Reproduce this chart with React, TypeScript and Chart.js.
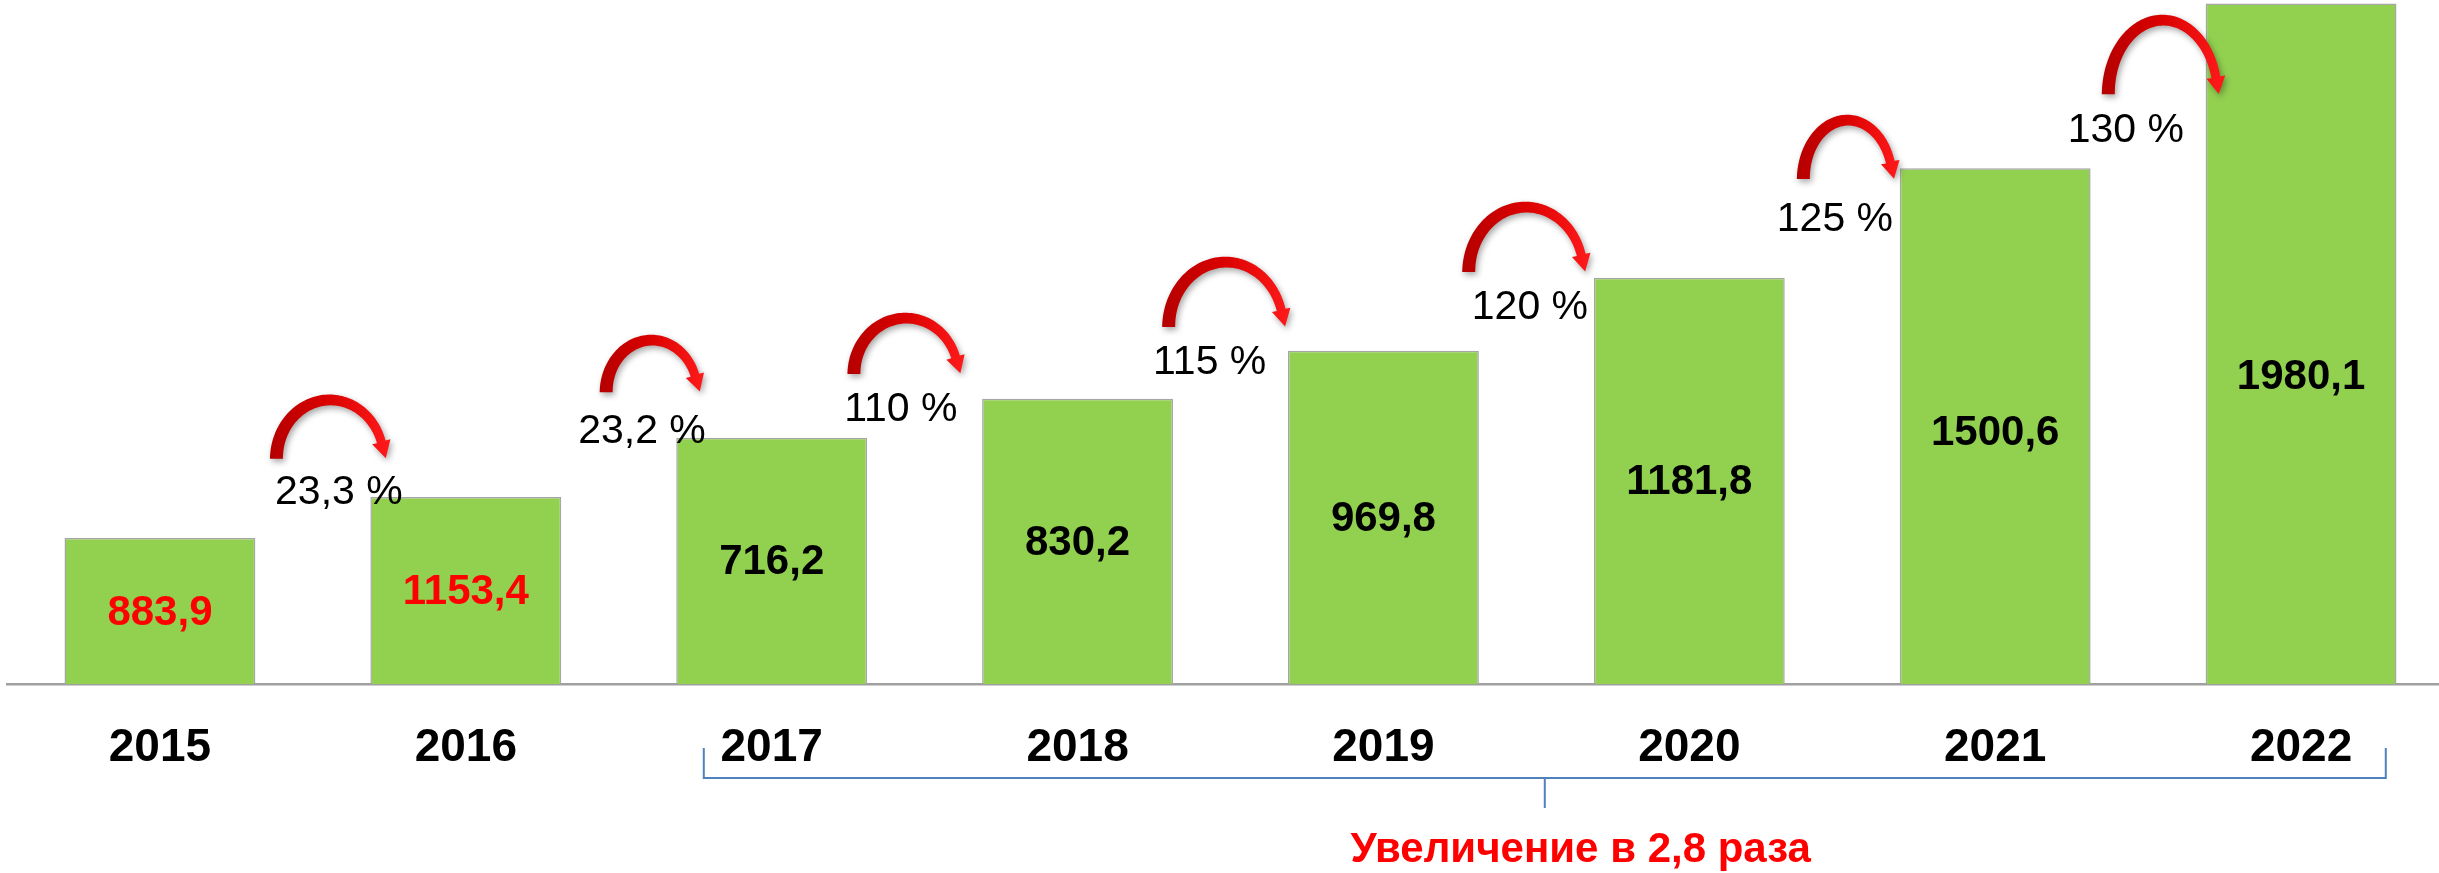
import React, { useEffect, useRef } from 'react';
import { Chart, registerables } from 'chart.js';

Chart.register(...registerables);

// ---- data ----
const years = ['2015', '2016', '2017', '2018', '2019', '2020', '2021', '2022'];
const barHeights = [425, 544, 716.2, 830.2, 969.8, 1181.8, 1500.6, 1980.1];
const valueLabels = ['883,9', '1153,4', '716,2', '830,2', '969,8', '1181,8', '1500,6', '1980,1'];
const valueLabelRed = [true, true, false, false, false, false, false, false];
const growthLabels = ['23,3 %', '23,2 %', '110 %', '115 %', '120 %', '125 %', '130 %'];
const summaryText = 'Увеличение в 2,8 раза';

// ---- annotation layout (x in category units, y in value units) ----
const valueLabelLevel = [0.5, 0.5, 0.5, 0.5, 0.5, 0.5, 0.49, 0.453];
const growthLabelX = [0.585, 1.576, 2.422, 3.432, 4.479, 5.476, 6.427];
const growthLabelY = [561, 739, 803, 940, 1100, 1358, 1617];
const arrowCenterX = [0.556, 1.608, 2.439, 3.485, 4.466, 5.518, 6.548];
const arrowHalfWidth = [0.198, 0.172, 0.193, 0.21, 0.21, 0.168, 0.201];
const arrowBase = [655, 849, 902, 1039, 1199, 1469, 1716];
const arrowTop = [841, 1015, 1079, 1242, 1402, 1655, 1946];
const bracketFrom = 1.778;
const bracketTo = 7.277;
const summaryX = 4.645;

const FONT = '"Liberation Sans", Arial, Helvetica, sans-serif';

function drawArrow(ctx: CanvasRenderingContext2D, L: number, R: number, B: number, T: number) {
  const cx = (L + R) / 2;
  const rx = (R - L) / 2 - 7;
  const ry = B - T - 5;
  const h = 17;
  const te = Math.asin(Math.min(0.9, h / ry));
  const N = 80;
  const outer: number[][] = [];
  const inner: number[][] = [];
  for (let k = 0; k <= N; k++) {
    const th = Math.PI - ((Math.PI - te) * k) / N;
    const t = 13 - (4 * k) / N;
    const c = Math.cos(th);
    const s = Math.sin(th);
    outer.push([cx + (rx + t / 2) * c, B - (ry + t / 2) * s]);
    inner.push([cx + (rx - t / 2) * c, B - (ry - t / 2) * s]);
  }
  const px = cx + rx * Math.cos(te);
  const py = B - ry * Math.sin(te);
  let dx = rx * Math.sin(te);
  let dy = ry * Math.cos(te);
  const len = Math.hypot(dx, dy);
  dx /= len;
  dy /= len;
  const nx = -dy;
  const ny = dx;
  const hw = 9.5;
  ctx.save();
  const g = ctx.createLinearGradient(L, 0, R, 0);
  g.addColorStop(0, '#b40000');
  g.addColorStop(0.45, '#d80000');
  g.addColorStop(1, '#ff1a1a');
  ctx.fillStyle = g;
  ctx.shadowColor = 'rgba(0,0,0,0.35)';
  ctx.shadowBlur = 6;
  ctx.shadowOffsetX = 2;
  ctx.shadowOffsetY = 3;
  ctx.beginPath();
  ctx.moveTo(outer[0][0], outer[0][1]);
  for (const p of outer) ctx.lineTo(p[0], p[1]);
  ctx.lineTo(px - nx * hw, py - ny * hw);
  ctx.lineTo(px + dx * h, py + dy * h);
  ctx.lineTo(px + nx * hw, py + ny * hw);
  for (let k = inner.length - 1; k >= 0; k--) ctx.lineTo(inner[k][0], inner[k][1]);
  ctx.closePath();
  ctx.fill();
  ctx.restore();
}

const annotationsPlugin = {
  id: 'annotations',
  afterDatasetsDraw(chart: any) {
    const ctx: CanvasRenderingContext2D = chart.ctx;
    const xs = chart.scales.x;
    const ys = chart.scales.y;
    const area = chart.chartArea;
    const meta = chart.getDatasetMeta(0);

    // value labels inside bars
    ctx.save();
    ctx.font = `bold 42px ${FONT}`;
    ctx.textAlign = 'center';
    ctx.textBaseline = 'middle';
    meta.data.forEach((bar: any, i: number) => {
      const p = bar.getProps(['x', 'y', 'base'], true);
      const f = valueLabelLevel[i];
      ctx.fillStyle = valueLabelRed[i] ? '#ff0000' : '#000000';
      ctx.fillText(valueLabels[i], p.x, p.base + (p.y - p.base) * f + 2);
    });
    ctx.restore();

    // arrows
    growthLabels.forEach((_, i) => {
      const L = xs.getPixelForValue(arrowCenterX[i] - arrowHalfWidth[i]);
      const R = xs.getPixelForValue(arrowCenterX[i] + arrowHalfWidth[i]);
      const B = ys.getPixelForValue(arrowBase[i]);
      const T = ys.getPixelForValue(arrowTop[i]);
      drawArrow(ctx, L, R, B, T);
    });

    // growth labels
    ctx.save();
    ctx.font = `41px ${FONT}`;
    ctx.textAlign = 'center';
    ctx.textBaseline = 'middle';
    ctx.fillStyle = '#000000';
    growthLabels.forEach((t, i) => {
      ctx.fillText(t, xs.getPixelForValue(growthLabelX[i]), ys.getPixelForValue(growthLabelY[i]) + 2);
    });
    ctx.restore();

    // bracket
    const bx0 = xs.getPixelForValue(bracketFrom);
    const bx1 = xs.getPixelForValue(bracketTo);
    const bm = (bx0 + bx1) / 2;
    const yTop = area.bottom + 64;
    const yLine = area.bottom + 94;
    const yTick = area.bottom + 124;
    ctx.save();
    ctx.strokeStyle = '#4f81bd';
    ctx.lineWidth = 2;
    ctx.beginPath();
    ctx.moveTo(bx0, yTop);
    ctx.lineTo(bx0, yLine);
    ctx.lineTo(bx1, yLine);
    ctx.lineTo(bx1, yTop);
    ctx.moveTo(bm, yLine);
    ctx.lineTo(bm, yTick);
    ctx.stroke();
    ctx.restore();

    // summary text
    ctx.save();
    ctx.font = `bold 42px ${FONT}`;
    ctx.textAlign = 'center';
    ctx.textBaseline = 'alphabetic';
    ctx.fillStyle = '#ff0000';
    ctx.fillText(summaryText, xs.getPixelForValue(summaryX), area.bottom + 178);
    ctx.restore();
  },
};

export default function App() {
  const ref = useRef<HTMLCanvasElement | null>(null);
  useEffect(() => {
    if (!ref.current) return;
    const chart = new Chart(ref.current, {
      type: 'bar',
      data: {
        datasets: [
          {
            data: barHeights.map((v, i) => ({ x: i, y: v })),
            backgroundColor: '#92d050',
            borderColor: '#a6a6a6',
            borderWidth: 1.5,
            barPercentage: 0.624,
            categoryPercentage: 1,
          },
        ],
      },
      options: {
        responsive: false,
        animation: false,
        maintainAspectRatio: false,
        layout: { padding: { left: 7, right: 0, top: 0, bottom: 0 } },
        plugins: { legend: { display: false }, tooltip: { enabled: false } },
        scales: {
          x: {
            type: 'linear',
            offset: false,
            min: -0.5,
            max: 7.451,
            grid: { display: false, drawTicks: false },
            border: { display: true, color: '#a0a0a0', width: 2.5 },
            afterBuildTicks: (scale: any) => {
              scale.ticks = years.map((_, i) => ({ value: i }));
            },
            afterFit: (scale: any) => {
              scale.height = 189;
            },
            ticks: {
              autoSkip: false,
              maxRotation: 0,
              padding: 37,
              color: '#000000',
              font: { family: FONT, size: 46, weight: 'bold' },
              callback: (v: any) => years[Math.round(Number(v))] ?? '',
            },
          },
          y: {
            display: false,
            min: 0,
            max: 1990,
          },
        },
      },
      plugins: [annotationsPlugin],
    } as any);
    return () => chart.destroy();
  }, []);
  return (
    <div style={{ position: 'absolute', left: 0, top: 0, width: 2439, height: 873 }}>
      <canvas ref={ref} width={2439} height={873} style={{ display: 'block' }} />
    </div>
  );
}
